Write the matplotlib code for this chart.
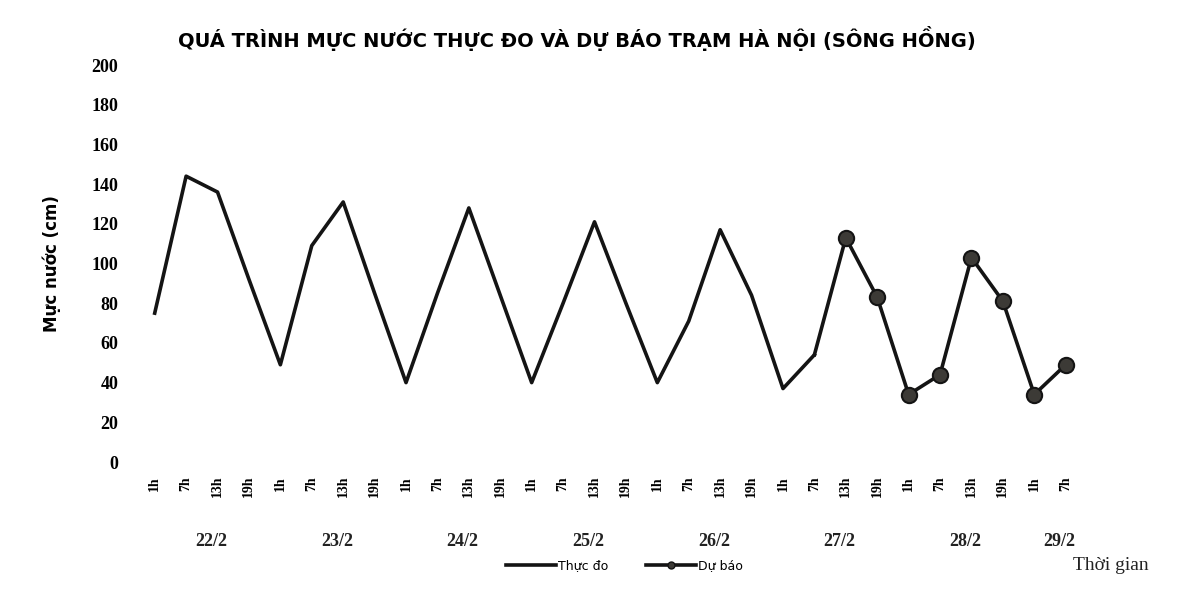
import matplotlib.pyplot as plt
import numpy as np

# du lieu muc nuoc (cm)
days = ['22/2', '23/2', '24/2', '25/2', '26/2', '27/2', '28/2', '29/2']
hours = ['1h', '7h', '13h', '19h']
thuc_do = [75, 144, 136, 92, 49, 109, 131, 85, 40, 85, 128, 84, 40, 80, 121,
           80, 40, 71, 117, 84, 37, 54]
du_bao = [54, 113, 83, 34, 44, 103, 81, 34, 49]   # diem dau noi voi thuc do

labels = [h for d in days[:-1] for h in hours] + hours[:2]
x = np.arange(len(labels))
x_bao = x[len(thuc_do) - 1:]

fig = plt.figure(figsize=(11.78, 5.89), dpi=100)
ax = fig.add_axes([0.118, 0.2156, 0.8, 0.674])

ax.plot(x[:len(thuc_do)], thuc_do, color='#141414', lw=2.6, label='Thực đo')
ax.plot(x_bao, du_bao, color='#141414', lw=2.6, marker='o', markersize=11,
        markerfacecolor='#3c3a36', markeredgecolor='#141414', markeredgewidth=1.5,
        markevery=list(range(1, len(du_bao))))
# mau cho chu thich
ax.plot([], [], color='#141414', lw=2.6, marker='o', markersize=5,
        markerfacecolor='#3c3a36', label='Dự báo')

ax.set_xlim(-0.5, len(labels) - 0.5)
ax.set_ylim(0, 200)
ax.set_yticks(range(0, 201, 20))
ax.set_xticks(x)
ax.set_xticklabels(labels, rotation=90, fontsize=10, fontweight='bold',
                   family='Liberation Serif')
for t in ax.get_yticklabels():
    t.set_family('Liberation Serif')
    t.set_fontweight('bold')
    t.set_fontsize(13)
ax.tick_params(length=0, pad=10)
ax.tick_params(axis='y', pad=15)
for s in ax.spines.values():
    s.set_visible(False)

ax.set_ylabel('Mực nước (cm)', fontsize=12, fontweight='bold', labelpad=22)

# nhan ngay
for i, d in enumerate(days):
    n = 4 if i < len(days) - 1 else 2
    cx = i * 4 + (n - 1) / 2 + 0.3
    ax.text(cx, -0.2, d, transform=ax.get_xaxis_transform(), ha='center',
            va='center', fontsize=13, fontweight='bold', family='Liberation Serif',
            color='#222222')

fig.text(0.49, 0.935, 'QUÁ TRÌNH MỰC NƯỚC THỰC ĐO VÀ DỰ BÁO TRẠM HÀ NỘI (SÔNG HỒNG)',
         ha='center', va='center', fontsize=14, fontweight='bold')
fig.text(0.943, 0.04, 'Thời gian', ha='center', va='center', fontsize=14,
         family='Liberation Serif', color='#222222')

fig.legend(loc='center', bbox_to_anchor=(0.53, 0.04), ncol=2, frameon=False,
           fontsize=9, handlelength=4, columnspacing=3, handletextpad=0.2)

fig.savefig('out.png', dpi=100)
